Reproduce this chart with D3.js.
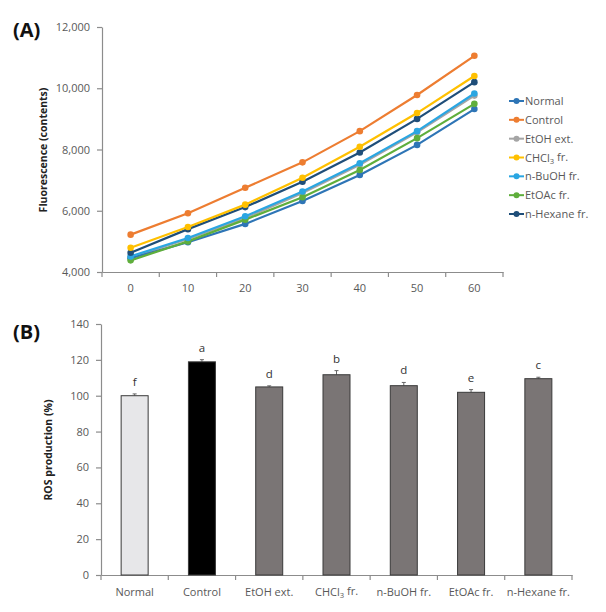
<!DOCTYPE html>
<html><head><meta charset="utf-8">
<script src="https://cdn.jsdelivr.net/npm/d3@7"></script>
<style>body{margin:0;background:#fff;} svg{display:block;} text{font-family:"Open Sans","Noto Sans",sans-serif;}</style>
</head><body>
<svg id="c" width="606" height="612"></svg>
<script>
// ---- Panel A data ----
const times = [0, 10, 20, 30, 40, 50, 60];
const seriesNames = ["Normal", "Control", "EtOH ext.", "CHCl3 fr.", "n-BuOH fr.", "EtOAc fr.", "n-Hexane fr."];
const normalVals  = [4450, 4970, 5570, 6320, 7170, 8150, 9320];
const controlVals = [5220, 5920, 6750, 7580, 8600, 9780, 11060];
const etohVals    = [4480, 5080, 5760, 6580, 7500, 8560, 9760];
const chcl3Vals   = [4790, 5470, 6200, 7080, 8090, 9190, 10400];
const buohVals    = [4510, 5110, 5820, 6630, 7550, 8600, 9830];
const etoacVals   = [4380, 5000, 5710, 6440, 7330, 8370, 9490];
const hexaneVals  = [4630, 5400, 6120, 6950, 7900, 9000, 10200];
const yTicksA = [4000, 6000, 8000, 10000, 12000];
// ---- Panel B data ----
const groups = ["Normal", "Control", "EtOH ext.", "CHCl3 fr.", "n-BuOH fr.", "EtOAc fr.", "n-Hexane fr."];
const rosVals = [100, 118.9, 104.9, 111.7, 105.6, 101.9, 109.5];
const rosErr  = [1.0, 1.2, 0.6, 2.3, 1.8, 1.5, 0.8];
const sigLetters = ["f", "a", "d", "b", "d", "e", "c"];
const yTicksB = [0, 20, 40, 60, 80, 100, 120, 140];

const lineColors = ["#2E75B6", "#ED7D31", "#A5A5A5", "#FFC000", "#2AA6E2", "#5FAE3C", "#1F4E79"];
const allSeries = [normalVals, controlVals, etohVals, chcl3Vals, buohVals, etoacVals, hexaneVals];
const barColors = ["#E7E7E9", "#000000", "#7A7575", "#7A7575", "#7A7575", "#7A7575", "#7A7575"];

const svg = d3.select("#c");
const axisCol = "#8C8C8C", txtCol = "#595959";

function label(sel, name){
  if (name.startsWith("CHCl3")) {
    sel.append("tspan").text("CHCl");
    sel.append("tspan").attr("font-size","0.7em").attr("dy","0.3em").text("3");
    sel.append("tspan").attr("dy","-0.3em").text(name.slice(5));
  } else sel.text(name);
}
function styleAxis(g){
  g.selectAll("path,line").attr("stroke", axisCol).attr("stroke-width", 1.2);
  g.selectAll("text").attr("fill", txtCol).attr("font-size", 11);
}

// ---------- Panel A ----------
const AX0 = 102, AX1 = 503;
const xA = d3.scaleBand().domain(times).range([AX0, AX1]);
const yA = d3.scaleLinear().domain([4000, 12000]).range([272, 27]);
svg.append("text").attr("x", 13).attr("y", 37).attr("font-size", 20).attr("font-weight", "bold").attr("fill", "#111").text("(A)");

const gxA = svg.append("g").attr("transform", "translate(0,272)")
  .call(d3.axisBottom(xA).tickSize(0).tickPadding(12));
gxA.selectAll(".tick line").remove();
gxA.selectAll(".bt").data(d3.range(times.length + 1)).enter().append("line")
  .attr("x1", i => AX0 + i * xA.step()).attr("x2", i => AX0 + i * xA.step())
  .attr("y1", 0).attr("y2", 5);
styleAxis(gxA);
const gyA = svg.append("g").attr("transform", `translate(${AX0},0)`)
  .call(d3.axisLeft(yA).tickValues(yTicksA).tickFormat(d3.format(",")).tickSize(5).tickPadding(7).tickSizeOuter(0));
styleAxis(gyA);
svg.append("text").attr("transform", "translate(47,150) rotate(-90)").attr("text-anchor", "middle")
  .attr("font-size", 10.5).attr("font-weight", "bold").attr("fill", "#222").text("Fluorescence (contents)");

const lineGen = d3.line().x((d, i) => xA(times[i]) + xA.bandwidth() / 2).y(d => yA(d));
const drawOrder = [2, 0, 5, 4, 6, 3, 1];
drawOrder.forEach(k => {
  svg.append("path").datum(allSeries[k]).attr("d", lineGen).attr("fill", "none")
    .attr("stroke", lineColors[k]).attr("stroke-width", 2.2);
  svg.selectAll(null).data(allSeries[k]).enter().append("circle")
    .attr("cx", (d, i) => xA(times[i]) + xA.bandwidth() / 2).attr("cy", d => yA(d))
    .attr("r", 3.3).attr("fill", lineColors[k]);
});
// legend
const legY = d3.scalePoint().domain(seriesNames).range([101, 214]);
seriesNames.forEach((n, k) => {
  const y = legY(n);
  svg.append("line").attr("x1", 509).attr("x2", 524).attr("y1", y).attr("y2", y)
    .attr("stroke", lineColors[k]).attr("stroke-width", 2);
  svg.append("circle").attr("cx", 516.5).attr("cy", y).attr("r", 3).attr("fill", lineColors[k]);
  const t = svg.append("text").attr("x", 525).attr("y", y + 4).attr("font-size", 11).attr("fill", txtCol);
  label(t, n);
});

// ---------- Panel B ----------
const xBfull = d3.scaleBand().domain(groups).range([101, 572]);
const yB = d3.scaleLinear().domain([0, 140]).range([575, 324]);
svg.append("text").attr("x", 13).attr("y", 339).attr("font-size", 20).attr("font-weight", "bold").attr("fill", "#111").text("(B)");

const gxB = svg.append("g").attr("transform", "translate(0,575)")
  .call(d3.axisBottom(xBfull).tickSize(0).tickPadding(13));
gxB.selectAll(".tick line").remove();
gxB.selectAll(".bt").data(d3.range(groups.length + 1)).enter().append("line")
  .attr("x1", i => 101 + i * xBfull.step()).attr("x2", i => 101 + i * xBfull.step())
  .attr("y1", 0).attr("y2", 5);
styleAxis(gxB);
gxB.selectAll(".tick text").each(function(d){ const s = d3.select(this); s.text(null); label(s, d); });
const gyB = svg.append("g").attr("transform", "translate(101,0)")
  .call(d3.axisLeft(yB).tickValues(yTicksB).tickSize(5).tickPadding(7).tickSizeOuter(0));
styleAxis(gyB);
svg.append("text").attr("transform", "translate(52,450) rotate(-90)").attr("text-anchor", "middle")
  .attr("font-size", 10.5).attr("font-weight", "bold").attr("fill", "#222").text("ROS production (%)");

const cx = g => xBfull(g) + xBfull.bandwidth() / 2;
const bw = 27;
groups.forEach((g, i) => {
  const v = rosVals[i], e = rosErr[i];
  svg.append("line").attr("x1", cx(g)).attr("x2", cx(g)).attr("y1", yB(v)).attr("y2", yB(v + e))
    .attr("stroke", "#666").attr("stroke-width", 1);
  svg.append("line").attr("x1", cx(g) - 2).attr("x2", cx(g) + 2).attr("y1", yB(v + e)).attr("y2", yB(v + e))
    .attr("stroke", "#666").attr("stroke-width", 1);
  svg.append("rect").attr("x", cx(g) - bw / 2).attr("y", yB(v)).attr("width", bw).attr("height", yB(0) - yB(v))
    .attr("fill", barColors[i]).attr("stroke", "#3a3a3a").attr("stroke-width", 1);
  svg.append("text").attr("x", cx(g)).attr("y", yB(v + e) - 8).attr("text-anchor", "middle")
    .attr("font-size", 11.5).attr("fill", "#333").text(sigLetters[i]);
});
</script>
</body></html>
